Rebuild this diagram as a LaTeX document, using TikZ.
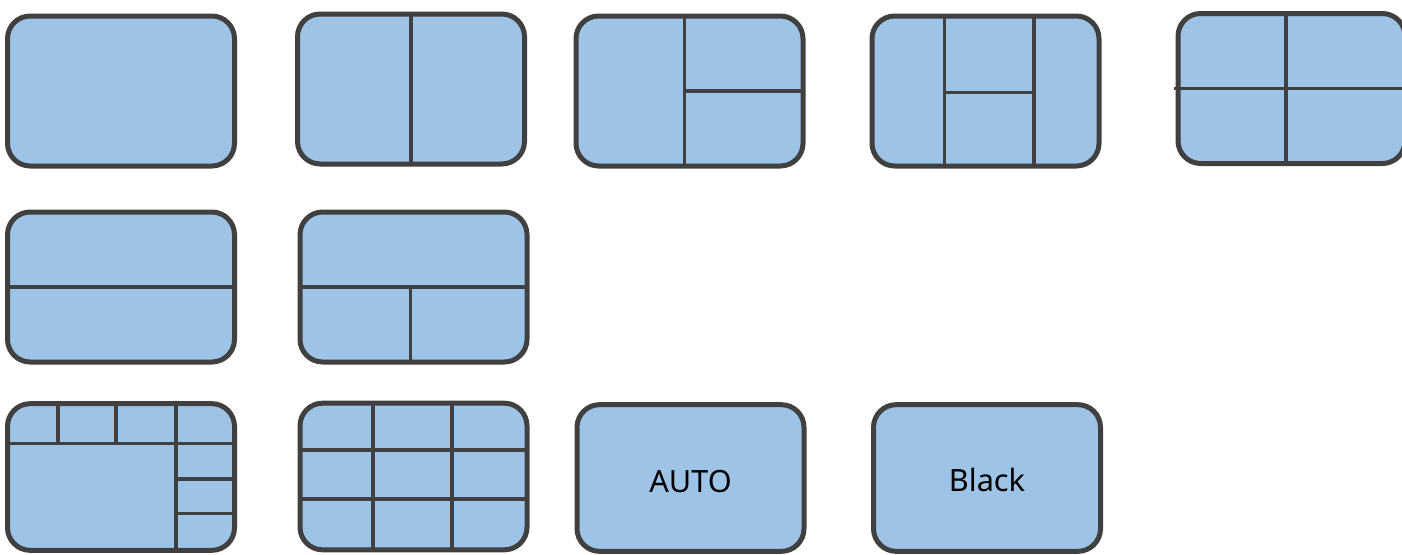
\documentclass[tikz,border=0pt]{standalone}
\usepackage{fontspec}
\setmainfont{Noto Sans}
\usetikzlibrary{calc}
\definecolor{boxfill}{HTML}{9DC3E6}
\definecolor{boxline}{HTML}{404040}
\begin{document}
\begin{tikzpicture}[x=0.75pt,y=-0.75pt,
  panel/.style={draw=boxline,fill=boxfill,line width=3.75pt,rounded corners=17pt,
    minimum width=170.25pt,minimum height=112.5pt,inner sep=0pt,outer sep=0pt,
    font=\fontsize{23}{27}\selectfont},
  lowpanel/.style={panel,minimum height=110pt},
  div/.style={draw=boxline,line width=2.6pt}]
\path[use as bounding box,clip] (0,0) rectangle (1402,554);

% row 1
\node[panel] (b1) at (121,91) {};
\node[panel] (b2) at (411,89) {};
\node[panel] (b3) at (689.5,91) {};
\node[panel] (b4) at (985.5,91) {};
\node[panel] (b5) at (1291.5,88.5) {};
% row 2
\node[panel] (b6) at (121,287) {};
\node[panel] (b7) at (413.5,287) {};
% row 3
\node[lowpanel] (b10) at (690.5,478) {\raisebox{-10.5pt}[0pt][0pt]{AUTO}};
\node[lowpanel] (b11) at (987,478) {\raisebox{-10pt}[0pt][0pt]{Black}};
\node[lowpanel] (b8) at (121,477) {};
\node[lowpanel] (b9) at (413.5,476.5) {};

% b2: one vertical
\draw[div] (b2.north) -- (b2.south);

% b3: vertical, right half split
\coordinate (b3v) at ($(b3.north west)!0.478!(b3.north east)$);
\draw[div] (b3v) -- (b3v |- b3.south);
\draw[div] (b3v |- b3.center) -- (b3.east);

% b4: two verticals, middle split
\coordinate (b4v1) at ($(b4.north west)!0.32!(b4.north east)$);
\coordinate (b4v2) at ($(b4.north west)!0.714!(b4.north east)$);
\coordinate (b4h) at ($(b4.north west)!0.51!(b4.south west)$);
\draw[div] (b4v1) -- (b4v1 |- b4.south);
\draw[div] (b4v2) -- (b4v2 |- b4.south);
\draw[div] (b4v1 |- b4h) -- (b4v2 |- b4h);

% b5: quad
\coordinate (b5v) at ($(b5.north west)!0.476!(b5.north east)$);
\draw[div] (b5v) -- (b5v |- b5.south);
\draw[div] ([xshift=-3pt]b5.west) -- (b5.east);

% b6: horizontal
\draw[div] (b6.west) -- (b6.east);

% b7: horizontal, lower split
\coordinate (b7v) at ($(b7.north west)!0.486!(b7.north east)$);
\draw[div] (b7.west) -- (b7.east);
\draw[div] (b7v |- b7.center) -- (b7v |- b7.south);

% b8: big + top strip + right column
\coordinate (b8h) at ($(b8.north west)!0.27!(b8.south west)$);
\coordinate (b8v1) at ($(b8.north west)!0.222!(b8.north east)$);
\coordinate (b8v2) at ($(b8.north west)!0.478!(b8.north east)$);
\coordinate (b8v3) at ($(b8.north west)!0.742!(b8.north east)$);
\coordinate (b8r1) at ($(b8.north west)!0.515!(b8.south west)$);
\coordinate (b8r2) at ($(b8.north west)!0.748!(b8.south west)$);
\draw[div] (b8h) -- (b8.east |- b8h);
\draw[div] (b8v3) -- (b8v3 |- b8.south);
\draw[div] (b8v1) -- (b8v1 |- b8h);
\draw[div] (b8v2) -- (b8v2 |- b8h);
\draw[div] (b8v3 |- b8r1) -- (b8.east |- b8r1);
\draw[div] (b8v3 |- b8r2) -- (b8.east |- b8r2);

% b9: 3x3 grid
\coordinate (b9v1) at ($(b9.north west)!0.322!(b9.north east)$);
\coordinate (b9v2) at ($(b9.north west)!0.67!(b9.north east)$);
\coordinate (b9h1) at ($(b9.north west)!0.32!(b9.south west)$);
\coordinate (b9h2) at ($(b9.north west)!0.654!(b9.south west)$);
\draw[div] (b9v1) -- (b9v1 |- b9.south);
\draw[div] (b9v2) -- (b9v2 |- b9.south);
\draw[div] (b9h1) -- (b9.east |- b9h1);
\draw[div] (b9h2) -- (b9.east |- b9h2);
\end{tikzpicture}
\end{document}
